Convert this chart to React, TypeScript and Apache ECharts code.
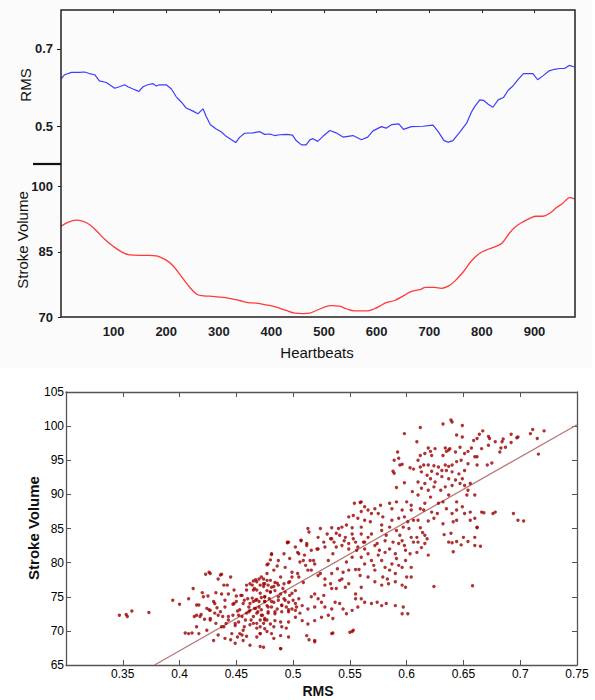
import React, { useEffect, useRef } from "react";
import * as echarts from "echarts";

// ---- Top panel: RMS (blue) vs heartbeats ----
const hbBlue = [0, 7, 20, 35, 45, 54, 64, 73, 86, 96, 102, 111, 121, 127, 137, 148, 156, 165, 175, 181, 187, 200, 210, 219, 229, 238, 251, 260, 270, 276, 284, 295, 305, 314, 324, 332, 340, 349, 365, 378, 387, 397, 406, 416, 428, 440, 447, 457, 466, 473, 479, 488, 498, 511, 523, 536, 555, 571, 583, 593, 609, 618, 628, 642, 651, 666, 688, 707, 717, 728, 736, 745, 758, 771, 780, 786, 796, 803, 812, 821, 831, 841, 850, 859, 869, 879, 897, 906, 916, 928, 938, 948, 957, 966, 976];
const rmsBlue = [0.622, 0.633, 0.639, 0.639, 0.640, 0.636, 0.633, 0.617, 0.613, 0.604, 0.598, 0.602, 0.607, 0.602, 0.596, 0.590, 0.602, 0.607, 0.610, 0.604, 0.607, 0.607, 0.596, 0.576, 0.562, 0.547, 0.539, 0.532, 0.545, 0.525, 0.504, 0.493, 0.485, 0.474, 0.465, 0.458, 0.472, 0.482, 0.483, 0.486, 0.479, 0.480, 0.476, 0.478, 0.479, 0.477, 0.463, 0.452, 0.452, 0.465, 0.468, 0.461, 0.474, 0.489, 0.483, 0.472, 0.476, 0.465, 0.472, 0.488, 0.499, 0.495, 0.504, 0.506, 0.492, 0.499, 0.500, 0.503, 0.486, 0.463, 0.459, 0.463, 0.485, 0.508, 0.536, 0.550, 0.568, 0.567, 0.557, 0.549, 0.568, 0.574, 0.593, 0.604, 0.621, 0.636, 0.636, 0.620, 0.630, 0.643, 0.647, 0.649, 0.649, 0.657, 0.653];

// ---- Top panel: Stroke volume (red) vs heartbeats ----
const hbRed = [0, 13, 29, 42, 54, 67, 83, 99, 115, 130, 149, 168, 181, 200, 213, 229, 245, 257, 267, 283, 301, 320, 339, 355, 371, 390, 409, 428, 444, 460, 473, 485, 501, 514, 530, 542, 558, 580, 596, 606, 618, 634, 650, 666, 682, 693, 710, 723, 736, 748, 764, 780, 796, 812, 828, 839, 853, 865, 878, 894, 903, 916, 929, 942, 954, 967, 976];
const svRed = [90.9, 91.8, 92.3, 92.0, 91.3, 89.9, 87.9, 86.3, 85.0, 84.3, 84.2, 84.2, 84.1, 83.1, 81.8, 79.3, 76.8, 75.3, 74.9, 74.8, 74.6, 74.3, 73.8, 73.3, 73.2, 72.8, 72.3, 71.5, 70.9, 70.8, 70.9, 71.5, 72.3, 72.6, 72.5, 71.9, 71.4, 71.4, 71.9, 72.5, 73.3, 73.8, 74.8, 75.9, 76.3, 76.8, 76.8, 76.6, 77.1, 78.2, 80.3, 82.9, 84.7, 85.6, 86.3, 87.1, 89.4, 90.9, 91.9, 92.9, 93.2, 93.2, 93.9, 95.2, 96.2, 97.5, 97.2];

const hbTicks = [100, 200, 300, 400, 500, 600, 700, 800, 900];
const rmsTicks = [0.5, 0.7];
const svTicks = [70, 85, 100];

// ---- Bottom panel: scatter [RMS, Stroke Volume] ----
const scatterPoints = [
  [0.347,72.3],[0.353,72.4],[0.354,72.1],[0.358,72.9],[0.373,72.7],
  [0.394,74.5],[0.400,73.9],[0.412,76.2],[0.408,74.7],
  [0.423,78.3],[0.426,78.6],[0.434,77.6],[0.437,78.3],[0.442,76.7],[0.445,77.9],
  [0.459,76.7],[0.462,76.9],[0.465,77.3],[0.467,77.5],[0.470,77.6],[0.474,77.6],[0.466,76.2],[0.471,76.7],[0.474,76.9],
  [0.420,75.6],[0.425,75.1],[0.432,75.6],[0.437,75.4],[0.443,75.4],[0.450,75.1],[0.454,75.2],[0.457,74.5],[0.460,74.7],[0.465,74.3],[0.468,74.6],[0.472,74.9],[0.475,74.3],[0.417,73.8],[0.430,74.3],[0.440,74.5],[0.447,73.9],[0.433,73.4],
  [0.424,73.3],[0.427,73.0],[0.431,72.6],[0.436,72.8],[0.415,72.3],[0.419,72.4],[0.413,72.1],[0.422,71.7],[0.427,71.8],[0.438,72.1],[0.443,71.6],[0.447,72.3],[0.451,72.9],[0.455,72.1],[0.459,72.6],[0.462,73.0],[0.466,73.3],[0.469,72.8],[0.473,72.3],[0.475,71.6],[0.432,71.1],[0.437,70.6],[0.441,71.1],[0.449,70.8],[0.452,71.3],[0.457,70.6],[0.463,71.6],[0.468,71.1],[0.471,70.6],
  [0.405,69.7],[0.408,69.6],[0.411,69.7],[0.415,70.6],[0.417,69.6],[0.424,70.1],[0.430,68.6],[0.434,69.4],[0.440,68.9],[0.446,69.6],[0.451,69.1],[0.455,69.4],[0.449,68.2],[0.456,68.6],[0.462,67.9],[0.468,69.1],[0.471,69.6],[0.474,67.6],
  [0.459,76.0],[0.464,76.7],[0.468,77.2],[0.471,75.5],[0.467,74.5],[0.462,74.0],[0.470,73.5],[0.472,73.1],[0.468,72.6],[0.465,72.1],[0.461,72.8],[0.458,71.6],[0.471,71.6],[0.474,71.1],[0.462,70.9],[0.468,70.4],[0.456,70.1],[0.453,73.1],[0.450,74.3],[0.455,75.2],[0.448,76.0],[0.472,77.9],[0.477,78.4],[0.480,77.4],[0.483,76.5],[0.475,74.3],[0.465,76.0],[0.478,72.6],[0.477,69.9],[0.459,69.2],[0.445,68.7],[0.471,67.7],[0.489,67.4],[0.483,68.9],[0.427,78.4],[0.436,78.2],[0.439,76.7],
  [0.415,73.8],[0.421,75.0],[0.426,73.1],[0.431,74.0],[0.434,72.3],[0.440,73.5],[0.443,72.1],[0.448,74.0],[0.449,71.1],[0.452,72.3],[0.456,74.0],[0.461,73.5],[0.464,74.8],[0.467,73.3],[0.470,74.3],[0.472,72.3],[0.475,75.0],[0.478,73.5],[0.481,74.3],[0.484,72.8],[0.487,75.0],[0.490,73.8],[0.493,74.5],[0.496,73.1],[0.499,75.5],[0.502,74.0],[0.468,76.0],[0.474,76.5],[0.480,75.7],[0.486,77.0],[0.491,76.2],[0.497,77.2],[0.465,71.1],[0.477,71.6],[0.483,70.6],[0.489,71.3],[0.494,70.4],[0.471,69.6],[0.453,69.6],[0.439,70.6],[0.427,71.6],[0.418,72.1],
  [0.495,82.9],[0.481,81.2],[0.480,80.4],[0.477,79.7],[0.486,79.5],
  [0.514,84.5],[0.538,84.3],[0.540,85.0],[0.546,83.7],[0.552,84.2],[0.555,83.0],[0.560,84.2],[0.563,83.0],[0.569,84.2],[0.578,84.7],[0.582,84.0],[0.591,84.7],[0.596,83.2],[0.602,85.0],[0.606,83.0],[0.522,83.7],[0.527,83.0],[0.533,83.5],[0.536,83.0],[0.507,83.2],[0.496,83.0],[0.502,82.3],[0.512,82.8],[0.521,82.0],[0.528,82.3],[0.543,82.5],[0.549,82.0],[0.556,81.8],[0.563,82.0],[0.572,82.5],[0.581,81.5],[0.590,81.3],[0.599,81.8],[0.593,82.8],
  [0.481,81.3],[0.478,79.8],[0.487,80.3],[0.492,81.3],[0.497,80.6],[0.505,81.3],[0.506,80.1],[0.511,79.6],[0.515,80.3],[0.519,79.8],[0.516,78.9],[0.522,78.1],[0.528,77.6],[0.534,78.4],[0.539,79.1],[0.544,78.6],[0.543,77.6],[0.549,78.9],[0.555,79.0],[0.558,79.0],[0.559,78.1],[0.563,79.8],[0.569,80.3],[0.575,81.1],[0.572,78.9],[0.581,79.3],[0.587,79.8],[0.591,80.6],[0.596,79.3],[0.600,77.9],[0.604,79.3],[0.590,78.4],[0.583,77.6],[0.493,79.3],[0.499,78.6],[0.483,78.9],[0.489,77.9],[0.477,77.4],[0.505,77.9],[0.509,77.1],
  [0.495,83.0],[0.507,83.3],[0.512,82.5],[0.504,81.5],[0.510,81.1],[0.516,81.8],[0.522,82.0],[0.518,80.3],[0.509,80.3],[0.513,78.9],[0.504,78.4],[0.499,77.9],[0.524,78.4],[0.531,80.3],[0.535,81.3],[0.538,82.3],[0.545,83.2],[0.549,82.8],[0.553,83.5],[0.557,82.3],[0.562,83.0],[0.566,83.7],[0.574,82.8],[0.576,81.8],[0.581,83.2],[0.585,82.0],[0.588,83.0],[0.594,84.0],[0.598,82.5],[0.604,83.7],[0.534,83.5],[0.541,84.0],[0.530,84.2],[0.547,80.1],[0.552,80.8],[0.560,80.8],[0.566,81.3],[0.571,79.6],[0.578,80.3],[0.585,78.9],[0.593,79.6],[0.599,80.3],[0.603,81.3],[0.604,77.9],[0.596,76.7],[0.590,77.2],[0.579,77.9],[0.566,77.9],[0.549,76.9],[0.541,77.4],[0.534,76.2],[0.528,76.7],
  [0.475,76.9],[0.478,76.7],[0.481,76.4],[0.484,77.1],[0.487,76.7],[0.492,76.9],[0.496,77.1],[0.477,75.9],[0.480,75.7],[0.484,75.9],[0.489,75.4],[0.493,75.7],[0.497,75.2],[0.502,75.9],[0.475,75.0],[0.479,74.7],[0.483,74.2],[0.487,74.5],[0.492,74.7],[0.496,74.2],[0.500,74.5],[0.505,74.7],[0.477,73.7],[0.481,73.5],[0.486,73.2],[0.490,73.7],[0.494,73.5],[0.499,73.2],[0.503,73.5],[0.508,73.7],[0.478,72.8],[0.484,72.5],[0.490,72.8],[0.496,72.8],[0.502,73.0],[0.506,72.6],
  [0.516,75.0],[0.519,75.4],[0.522,74.7],[0.527,75.2],[0.525,74.2],[0.528,73.5],[0.519,73.5],[0.513,73.2],[0.534,73.2],[0.537,74.2],[0.541,74.0],[0.544,73.2],[0.555,74.7],[0.560,74.7],[0.547,72.5],[0.552,73.0],[0.557,73.5],[0.563,74.2],[0.569,74.0],[0.574,74.2],[0.578,73.7],[0.582,74.0],[0.590,73.7],[0.597,73.5],[0.601,72.5],[0.596,72.5],[0.572,77.2],[0.578,76.7],[0.584,76.9],[0.560,76.4],[0.555,75.4],[0.546,76.4],[0.538,76.2],[0.533,76.9],[0.599,76.4],
  [0.475,71.8],[0.480,71.0],[0.484,71.5],[0.490,70.6],[0.496,71.3],[0.502,72.0],[0.508,71.5],[0.513,71.0],[0.519,71.5],[0.525,72.0],[0.531,72.3],[0.535,71.8],[0.475,70.3],[0.481,69.6],[0.489,69.3],[0.496,69.1],[0.512,69.3],[0.519,68.6],[0.489,67.4],[0.534,69.6],[0.550,69.8],[0.553,70.1],[0.514,68.7],[0.519,68.4],[0.535,69.7],[0.552,69.9],
  [0.598,98.9],[0.592,96.2],[0.593,95.3],[0.589,95.0],[0.596,94.4],[0.594,94.3],[0.588,93.4],[0.589,93.1],[0.603,93.9],[0.606,93.7],[0.598,91.7],[0.591,91.0],[0.605,90.4],[0.554,88.7],[0.559,88.8],[0.560,88.9],[0.563,88.2],[0.560,87.5],[0.566,87.7],[0.569,87.2],[0.572,87.9],[0.577,88.4],[0.575,87.2],[0.579,86.7],[0.585,88.7],[0.587,87.9],[0.591,88.9],[0.596,87.7],[0.600,88.9],[0.604,88.4],[0.549,86.7],[0.553,86.9],[0.557,86.5],[0.563,86.2],[0.568,86.0],[0.543,85.2],[0.547,85.5],[0.552,85.1],[0.560,85.2],[0.534,85.1],[0.578,85.5],[0.587,86.2],[0.593,86.5],[0.598,86.7],[0.601,86.0],[0.597,85.2],[0.606,86.2],[0.604,87.7],[0.585,85.2],[0.513,85.0],[0.524,85.0],
  [0.612,99.8],[0.632,100.3],[0.639,100.9],[0.640,100.6],[0.649,100.1],[0.644,98.7],[0.649,98.4],[0.664,98.8],[0.667,99.3],[0.672,98.5],[0.673,98.2],[0.659,97.9],[0.662,98.2],[0.678,97.7],[0.684,97.7],[0.685,98.1],[0.692,98.8],[0.697,98.3],[0.698,98.4],[0.709,98.9],[0.711,99.5],[0.721,99.3],[0.715,98.2],[0.716,95.9],[0.692,97.6],[0.683,96.8],[0.682,96.2],[0.687,96.9],[0.672,97.2],[0.666,96.7],[0.662,95.5],[0.660,95.5],[0.657,96.8],[0.654,96.3],[0.651,96.0],[0.647,96.9],[0.643,96.2],[0.638,96.7],[0.634,96.8],[0.635,96.3],[0.637,96.5],[0.632,95.7],[0.625,96.7],[0.619,96.8],[0.621,96.3],[0.616,96.0],[0.622,95.7],[0.612,95.7],[0.610,95.0],[0.609,97.7],
  [0.675,94.6],[0.671,94.3],[0.662,94.3],[0.654,94.5],[0.648,95.0],[0.644,94.8],[0.640,94.3],[0.637,94.1],[0.634,94.3],[0.628,94.0],[0.624,94.2],[0.619,94.3],[0.615,94.3],[0.612,94.0],[0.613,93.3],[0.618,92.8],[0.622,93.4],[0.627,93.0],[0.631,93.5],[0.635,93.5],[0.640,93.3],[0.646,93.0],[0.651,93.5],[0.649,92.3],[0.643,92.1],[0.637,92.3],[0.631,92.6],[0.625,91.8],[0.621,92.3],[0.616,91.6],[0.610,91.8],[0.613,90.9],[0.619,90.6],[0.624,91.1],[0.630,90.6],[0.634,91.1],[0.640,91.3],[0.647,91.6],[0.651,91.3],[0.656,91.6],[0.654,90.6],
  [0.610,89.9],[0.621,89.6],[0.628,88.7],[0.632,88.9],[0.637,89.9],[0.644,88.9],[0.649,88.2],[0.653,89.9],[0.660,89.9],[0.616,88.7],[0.612,87.9],[0.615,87.7],[0.622,87.4],[0.627,87.2],[0.635,87.9],[0.640,87.2],[0.644,87.7],[0.651,87.2],[0.656,87.4],[0.666,87.4],[0.668,87.3],[0.676,87.2],[0.678,87.4],[0.694,87.2],[0.698,86.2],[0.703,86.1],[0.610,86.2],[0.619,86.1],[0.624,86.5],[0.632,85.7],[0.641,86.0],[0.644,86.2],[0.656,86.2],[0.662,85.2],[0.660,86.5],
  [0.612,85.1],[0.614,84.4],[0.609,83.7],[0.610,83.0],[0.616,84.0],[0.618,83.5],[0.616,82.8],[0.613,82.2],[0.609,81.5],[0.619,81.1],[0.633,84.1],[0.639,84.3],[0.637,83.0],[0.640,82.9],[0.644,83.1],[0.650,83.7],[0.654,83.1],[0.648,82.6],[0.660,83.7],[0.660,82.5],[0.665,82.4],[0.662,85.1],[0.641,81.6],[0.624,76.5],[0.658,76.6]
];

// regression line end points
const fitRms = [0.378, 0.75];
const fitSv = [65.0, 100.2];

const FONT = "'Liberation Sans', Arial, sans-serif";

export default function App() {
  const ref = useRef<HTMLDivElement>(null);

  useEffect(() => {
    if (!ref.current) return;
    const chart = echarts.init(ref.current, undefined, { renderer: "svg" });

    const topLabel = { fontFamily: FONT, fontSize: 13, fontWeight: "bold", color: "#1c1c24" };
    const botLabel = { fontFamily: FONT, fontSize: 12, color: "#000" };
    const scatterAxisLine = { show: true, lineStyle: { color: "#555", width: 1.3 } };
    const scatterTick = { show: true, inside: true, length: 5, lineStyle: { color: "#555" } };

    const option: any = {
      animation: false,
      backgroundColor: "#ffffff",
      grid: [
        { left: 61, top: 10, width: 514, height: 155, containLabel: false, outerBoundsMode: "none" },
        { left: 61, top: 165, width: 514, height: 152, containLabel: false, outerBoundsMode: "none" },
        { left: 66, top: 392, width: 511, height: 273, containLabel: false, outerBoundsMode: "none" },
      ],
      xAxis: [
        {
          gridIndex: 0, type: "value", min: 0, max: 977, position: "top",
          axisLine: { show: false },
          axisTick: { show: true, inside: true, length: 3, customValues: hbTicks, lineStyle: { color: "#222" } },
          axisLabel: { show: false },
          splitLine: { show: false },
        },
        {
          gridIndex: 1, type: "value", min: 0, max: 977, position: "bottom",
          axisLine: { show: false },
          axisTick: { show: false },
          axisLabel: { ...topLabel, customValues: hbTicks, margin: 8 },
          splitLine: { show: false },
        },
        {
          gridIndex: 2, type: "value", min: 0.3, max: 0.75, interval: 0.05, position: "bottom",
          axisLine: scatterAxisLine,
          axisTick: scatterTick,
          axisLabel: { ...botLabel, margin: 3, showMinLabel: false },
          splitLine: { show: false },
        },
        {
          gridIndex: 2, type: "value", min: 0.3, max: 0.75, interval: 0.05, position: "top",
          axisLine: scatterAxisLine,
          axisTick: scatterTick,
          axisLabel: { show: false },
          splitLine: { show: false },
        },
      ],
      yAxis: [
        {
          gridIndex: 0, type: "value", min: 0.4, max: 0.8, position: "left",
          axisLine: { show: false },
          axisTick: { show: true, inside: false, length: 4, customValues: rmsTicks, lineStyle: { color: "#222" } },
          axisLabel: { ...topLabel, customValues: rmsTicks, margin: 8 },
          splitLine: { show: false },
        },
        {
          gridIndex: 1, type: "value", min: 70, max: 105, position: "left",
          axisLine: { show: false },
          axisTick: { show: true, inside: false, length: 3, customValues: svTicks, lineStyle: { color: "#222" } },
          axisLabel: { ...topLabel, customValues: svTicks, margin: 8 },
          splitLine: { show: false },
        },
        {
          gridIndex: 2, type: "value", min: 65, max: 105, interval: 5, position: "left",
          axisLine: scatterAxisLine,
          axisTick: scatterTick,
          axisLabel: { ...botLabel, margin: 2 },
          splitLine: { show: false },
        },
        {
          gridIndex: 2, type: "value", min: 65, max: 105, interval: 5, position: "right",
          axisLine: scatterAxisLine,
          axisTick: scatterTick,
          axisLabel: { show: false },
          splitLine: { show: false },
        },
      ],
      series: [
        {
          type: "line", xAxisIndex: 0, yAxisIndex: 0,
          data: hbBlue.map((h, i) => [h, rmsBlue[i]]),
          showSymbol: false, symbol: "none",
          lineStyle: { color: "#3d3dff", width: 1.2 },
        },
        {
          type: "line", xAxisIndex: 1, yAxisIndex: 1,
          data: hbRed.map((h, i) => [h, svRed[i]]),
          smooth: 0.35, showSymbol: false, symbol: "none",
          lineStyle: { color: "#ff3a3a", width: 1.3 },
        },
        {
          type: "line", xAxisIndex: 2, yAxisIndex: 2,
          data: fitRms.map((r, i) => [r, fitSv[i]]),
          showSymbol: false, symbol: "none",
          lineStyle: { color: "#b87878", width: 1.3 },
          z: 1,
        },
        {
          type: "scatter", xAxisIndex: 2, yAxisIndex: 2,
          data: scatterPoints,
          symbolSize: 3.4,
          itemStyle: { color: "#9c0000" },
          z: 3,
        },
      ],
      graphic: [
        { type: "rect", z: -100, silent: true, shape: { x: 0, y: 0, width: 592, height: 368 }, style: { fill: "#fbfbfb" } },
        { type: "rect", z: 50, silent: true, shape: { x: 61, y: 10, width: 514, height: 307 }, style: { fill: "none", stroke: "#222", lineWidth: 1.5 } },
        { type: "line", z: 50, silent: true, shape: { x1: 33, y1: 164, x2: 61, y2: 164 }, style: { stroke: "#111", lineWidth: 2.2 } },
        { type: "text", x: 25, y: 85, rotation: Math.PI / 2, style: { text: "RMS", font: `15px ${FONT}`, fill: "#111", textAlign: "center", textVerticalAlign: "middle" } },
        { type: "text", x: 22, y: 240, rotation: Math.PI / 2, style: { text: "Stroke Volume", font: `15px ${FONT}`, fill: "#111", textAlign: "center", textVerticalAlign: "middle" } },
        { type: "text", x: 317, y: 352, style: { text: "Heartbeats", font: `15px ${FONT}`, fill: "#111", textAlign: "center", textVerticalAlign: "middle" } },
        { type: "text", x: 33, y: 528, rotation: Math.PI / 2, style: { text: "Stroke Volume", font: `bold 15px ${FONT}`, fill: "#111", textAlign: "center", textVerticalAlign: "middle" } },
        { type: "text", x: 318, y: 691, style: { text: "RMS", font: `bold 14px ${FONT}`, fill: "#111", textAlign: "center", textVerticalAlign: "middle" } },
      ],
    };

    chart.setOption(option);
    return () => chart.dispose();
  }, []);

  return <div ref={ref} style={{ position: "absolute", left: 0, top: 0, width: 595, height: 700 }} />;
}
